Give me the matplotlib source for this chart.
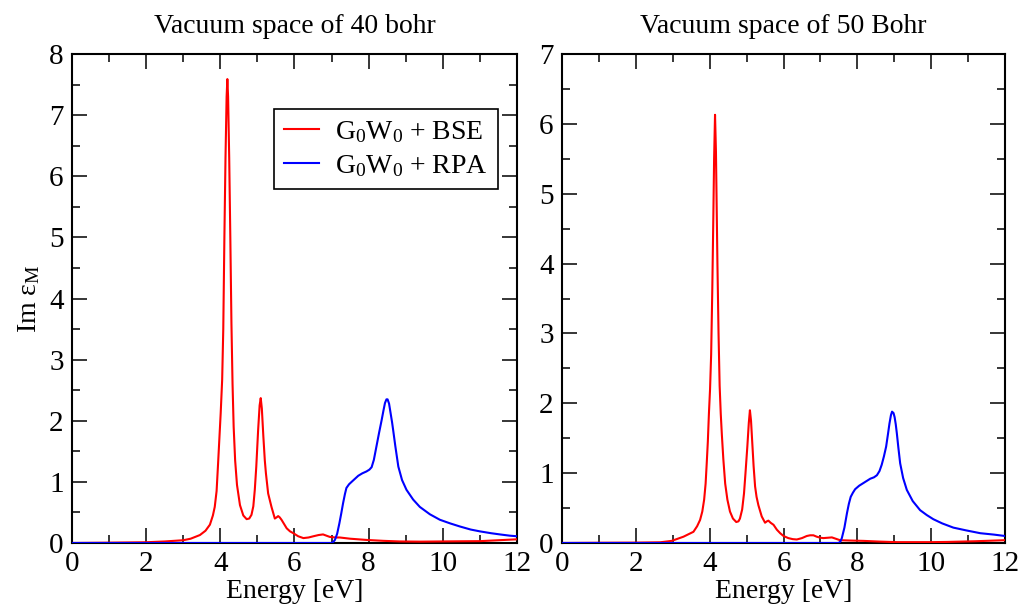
import matplotlib
matplotlib.use("Agg")
import matplotlib.pyplot as plt
from matplotlib.ticker import MultipleLocator

plt.rcParams['font.family'] = ['Liberation Serif', 'DejaVu Serif']
plt.rcParams['mathtext.fontset'] = 'custom'
plt.rcParams['mathtext.rm'] = 'Liberation Serif'
plt.rcParams['mathtext.it'] = 'Liberation Serif:italic'

# 40 bohr panel
bse40_x = [0.0, 1.0, 2.0, 2.5, 3.0, 3.2, 3.45, 3.6, 3.72, 3.80, 3.85, 3.90, 3.94, 4.01,
           4.05, 4.08, 4.11, 4.14, 4.17, 4.19, 4.21, 4.24, 4.27, 4.30, 4.33, 4.36, 4.40,
           4.45, 4.53, 4.62, 4.71, 4.78, 4.84, 4.89, 4.93, 4.97, 5.02, 5.06, 5.09, 5.12,
           5.16, 5.20, 5.23, 5.29, 5.38, 5.47, 5.52, 5.56, 5.60, 5.65, 5.72, 5.79, 5.88,
           5.97, 6.10, 6.24, 6.38, 6.51, 6.65, 6.77, 6.86, 6.95, 7.10, 7.22, 7.50, 7.94,
           8.40, 8.84, 9.40, 9.92, 10.5, 11.0, 11.5, 12.0]
bse40_y = [0.0, 0.005, 0.012, 0.025, 0.045, 0.07, 0.13, 0.20, 0.30, 0.45, 0.59, 0.85, 1.30, 2.12,
           2.67, 3.5, 5.0, 6.3, 7.3, 7.59, 7.3, 6.3, 5.0, 3.6, 2.6, 1.9, 1.35,
           0.95, 0.62, 0.45, 0.39, 0.40, 0.46, 0.60, 0.87, 1.25, 1.85, 2.25, 2.37, 2.20,
           1.75, 1.35, 1.14, 0.81, 0.59, 0.40, 0.42, 0.44, 0.42, 0.38, 0.31, 0.24, 0.19,
           0.16, 0.11, 0.08, 0.09, 0.11, 0.13, 0.14, 0.12, 0.10, 0.09, 0.09, 0.07, 0.05,
           0.035, 0.025, 0.022, 0.025, 0.028, 0.03, 0.045, 0.06]
rpa40_x = [0.0, 7.0, 7.05, 7.09, 7.15, 7.21, 7.26, 7.31, 7.36, 7.40, 7.47, 7.54, 7.63, 7.72,
           7.83, 7.94, 8.02, 8.08, 8.14, 8.21, 8.28, 8.35, 8.40, 8.44, 8.48, 8.51, 8.55,
           8.59, 8.63, 8.66, 8.72, 8.80, 8.90, 9.02, 9.20, 9.38, 9.65, 9.92, 10.2, 10.46,
           10.75, 11.0, 11.3, 11.54, 11.8, 12.0]
rpa40_y = [0.0, 0.0, 0.02, 0.05, 0.15, 0.32, 0.48, 0.65, 0.80, 0.90, 0.96, 1.00, 1.05, 1.10,
           1.14, 1.17, 1.20, 1.24, 1.36, 1.58, 1.80, 2.01, 2.17, 2.29, 2.35, 2.35, 2.28,
           2.13, 1.98, 1.85, 1.58, 1.25, 1.03, 0.87, 0.71, 0.59, 0.47, 0.38, 0.32, 0.27,
           0.22, 0.19, 0.16, 0.14, 0.12, 0.11]

# 50 bohr panel
bse50_x = [0.0, 1.0, 2.0, 2.66, 2.97, 3.29, 3.56, 3.66, 3.74, 3.80, 3.85, 3.89, 3.92, 3.95,
           3.98, 4.01, 4.04, 4.07, 4.10, 4.12, 4.145, 4.17, 4.19, 4.21, 4.24, 4.27, 4.30,
           4.33, 4.37, 4.42, 4.48, 4.55, 4.63, 4.72, 4.78, 4.82, 4.88, 4.93, 4.97, 5.02,
           5.06, 5.09, 5.12, 5.15, 5.19, 5.23, 5.27, 5.32, 5.41, 5.50, 5.55, 5.59, 5.65,
           5.73, 5.82, 5.91, 6.00, 6.13, 6.25, 6.36, 6.50, 6.63, 6.72, 6.81, 6.90, 7.00,
           7.08, 7.20, 7.31, 7.42, 7.53, 7.80, 8.17, 8.60, 9.07, 10.0, 10.43, 11.2, 12.0]
bse50_y = [0.0, 0.003, 0.005, 0.01, 0.03, 0.09, 0.16, 0.24, 0.33, 0.45, 0.62, 0.85, 1.14, 1.45,
           1.86, 2.2, 2.7, 3.6, 4.7, 5.5, 6.13, 5.6, 4.8, 4.0, 3.0, 2.25, 1.85,
           1.55, 1.2, 0.85, 0.62, 0.45, 0.35, 0.30, 0.31, 0.35, 0.48, 0.71, 1.0, 1.38,
           1.72, 1.90, 1.75, 1.47, 1.10, 0.81, 0.66, 0.54, 0.38, 0.29, 0.31, 0.32, 0.29,
           0.26, 0.19, 0.14, 0.10, 0.07, 0.055, 0.05, 0.07, 0.10, 0.11, 0.11, 0.09, 0.075,
           0.07, 0.075, 0.08, 0.06, 0.04, 0.035, 0.03, 0.02, 0.012, 0.012, 0.015, 0.025, 0.04]
rpa50_x = [0.0, 7.49, 7.54, 7.58, 7.65, 7.72, 7.77, 7.82, 7.88, 7.94, 8.05, 8.17, 8.26, 8.35,
           8.45, 8.53, 8.60, 8.66, 8.72, 8.78, 8.83, 8.87, 8.91, 8.94, 8.98, 9.01, 9.04,
           9.07, 9.11, 9.16, 9.24, 9.34, 9.50, 9.70, 9.88, 10.06, 10.3, 10.6, 10.95, 11.33,
           11.7, 12.0]
rpa50_y = [0.0, 0.0, 0.02, 0.07, 0.22, 0.43, 0.56, 0.66, 0.72, 0.77, 0.82, 0.86, 0.89, 0.92,
           0.94, 0.97, 1.03, 1.12, 1.24, 1.38, 1.56, 1.71, 1.83, 1.88, 1.86, 1.80, 1.70,
           1.57, 1.37, 1.14, 0.93, 0.76, 0.60, 0.47, 0.40, 0.34, 0.28, 0.22, 0.18, 0.14,
           0.12, 0.10]

titles = ['Vacuum space of 40 bohr', 'Vacuum space of 50 Bohr']
ymax = [8, 7]

fig = plt.figure(figsize=(10.25, 6.09), dpi=100)
ax1 = fig.add_axes([0.0702, 0.1084, 0.4342, 0.8029])
ax2 = fig.add_axes([0.5483, 0.1084, 0.4322, 0.8029])

panels = [(ax1, bse40_x, bse40_y, rpa40_x, rpa40_y),
          (ax2, bse50_x, bse50_y, rpa50_x, rpa50_y)]

for i, (ax, bx, by, rx, ry) in enumerate(panels):
    ax.plot(bx, by, color='red', lw=1.5, label='G$_0$W$_0$ + BSE', zorder=3)
    ax.plot(rx, ry, color='blue', lw=1.5, label='G$_0$W$_0$ + RPA', zorder=3)
    ax.set_xlim(0, 12)
    ax.set_ylim(0, ymax[i])
    ax.xaxis.set_major_locator(MultipleLocator(2))
    ax.xaxis.set_minor_locator(MultipleLocator(1))
    ax.yaxis.set_major_locator(MultipleLocator(1))
    ax.yaxis.set_minor_locator(MultipleLocator(0.5))
    ax.tick_params(which='both', direction='in', top=True, right=True,
                   labelsize=21, width=1.1)
    ax.tick_params(which='major', length=11, pad=6)
    ax.tick_params(which='minor', length=6)
    for s in ax.spines.values():
        s.set_linewidth(1.5)
    ax.set_xlabel('Energy [eV]', fontsize=20, labelpad=1)
    ax.set_title(titles[i], fontsize=20, pad=15)

ax1.set_ylabel('Im ε$_{\\mathrm{M}}$', fontsize=20, labelpad=5)

leg = ax1.legend(loc='upper right', bbox_to_anchor=(0.957, 0.8875), borderaxespad=0,
                 fontsize=20, handlelength=1.25, handletextpad=0.6, fancybox=False,
                 framealpha=1, edgecolor='black', borderpad=0.35, labelspacing=0.3)
leg.get_frame().set_linewidth(1.2)

fig.savefig('out.png', dpi=100)
